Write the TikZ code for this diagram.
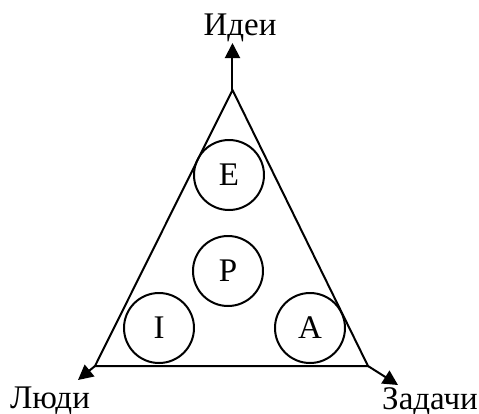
\documentclass[tikz,border=0pt]{standalone}
\usepackage{fontspec}
\setmainfont{Liberation Serif}
\usetikzlibrary{arrows.meta}
\tikzset{
  role/.style={draw, circle, line width=1pt, minimum size=35pt, inner sep=0pt,
    font=\fontsize{16.5}{19}\selectfont},
  axis/.style={-{Triangle[length=7.5pt, width=7.5pt]}, line width=1pt},
  axislabel/.style={anchor=base, inner sep=0pt, font=\fontsize{16.5}{19}\selectfont}
}
\begin{document}
\begin{tikzpicture}[x=0.5pt, y=-0.5pt]
  \useasboundingbox (0,0) rectangle (479,414);
  % corners of the triangle
  \coordinate (top) at (232.5,90);
  \coordinate (left) at (95,366);
  \coordinate (right) at (368,366);
  \draw[line width=1pt, line join=miter] (top) -- (left) -- (right) -- cycle;
  % axes
  \coordinate (ideas) at (232.5,43);
  \coordinate (people) at (78,380);
  \coordinate (tasks) at (398,385);
  \draw[axis] (top) -- (ideas);
  \draw[axis] (left) -- (people);
  \draw[axis] (right) -- (tasks);
  \node[axislabel] (ideaslabel) at (240,35) {Идеи};
  \node[axislabel] (peoplelabel) at (50,408) {Люди};
  \node[axislabel] (taskslabel) at (430,409) {Задачи};
  % roles
  \node[role] (e) at (229,175) {E};
  \node[role] (p) at (228,271) {P};
  \node[role] (i) at (159,328) {I};
  \node[role] (a) at (310,328) {A};
\end{tikzpicture}
\end{document}
